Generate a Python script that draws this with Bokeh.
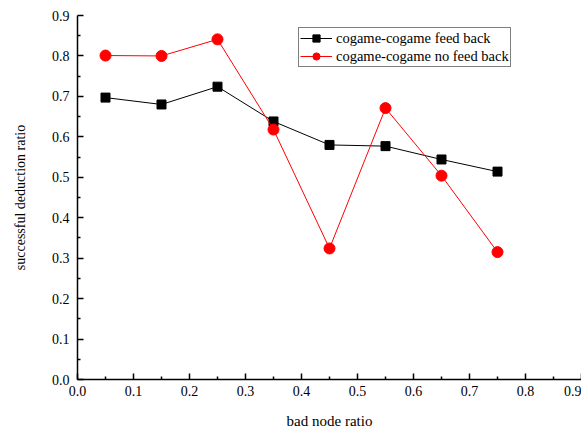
from bokeh.plotting import figure
from bokeh.models import ColumnDataSource, Legend, LegendItem, Range1d, FixedTicker, CustomJSTickFormatter
from bokeh.embed import file_html
from bokeh.resources import INLINE

x_vals = [0.05, 0.15, 0.25, 0.35, 0.45, 0.55, 0.65, 0.75]
feed_back = [0.697, 0.680, 0.724, 0.638, 0.580, 0.577, 0.544, 0.514]
no_feed_back = [0.801, 0.800, 0.841, 0.618, 0.324, 0.671, 0.504, 0.315]
x_ticks = [0.0, 0.1, 0.2, 0.3, 0.4, 0.5, 0.6, 0.7, 0.8, 0.9]
y_ticks = [0.0, 0.1, 0.2, 0.3, 0.4, 0.5, 0.6, 0.7, 0.8, 0.9]
x_minor = [0.05, 0.15, 0.25, 0.35, 0.45, 0.55, 0.65, 0.75, 0.85]
y_minor = [0.05, 0.15, 0.25, 0.35, 0.45, 0.55, 0.65, 0.75, 0.85]
x_title = "bad node ratio"
y_title = "successful deduction ratio"

FONT = "Liberation Serif"

p = figure(width=581, height=434, output_backend="svg", toolbar_location=None,
           x_range=Range1d(0, 0.9), y_range=Range1d(0, 0.9),
           min_border_left=77, min_border_right=0, min_border_top=15, min_border_bottom=55)
p.outline_line_color = None
p.grid.visible = False

src = ColumnDataSource(dict(x=x_vals, fb=feed_back, nfb=no_feed_back))

l1 = p.line("x", "fb", source=src, line_color="black", line_width=1)
m1 = p.scatter("x", "fb", source=src, marker="square", size=9, fill_color="black", line_color="black")
l2 = p.line("x", "nfb", source=src, line_color="red", line_width=1)
m2 = p.scatter("x", "nfb", source=src, marker="circle", size=11, fill_color="red", line_color="red")

fmt = CustomJSTickFormatter(code="return tick.toFixed(1);")

for ax, ticks, minor in ((p.xaxis[0], x_ticks, x_minor), (p.yaxis[0], y_ticks, y_minor)):
    ax.ticker = FixedTicker(ticks=ticks, minor_ticks=minor)
    ax.formatter = fmt
    ax.major_tick_in = 6
    ax.major_tick_out = 0
    ax.minor_tick_in = 3
    ax.minor_tick_out = 0
    ax.axis_line_width = 1.5
    ax.major_tick_line_width = 1.5
    ax.minor_tick_line_width = 1.5
    ax.axis_line_color = "black"
    ax.major_tick_line_color = "black"
    ax.minor_tick_line_color = "black"
    ax.axis_label_text_font_style = "normal"
    ax.axis_label_text_color = "black"
    ax.major_label_text_color = "black"
    ax.major_label_text_font_style = "normal"
    ax.major_label_text_font = FONT
    ax.major_label_text_font_size = "14px"
    ax.axis_label_text_font = FONT

p.xaxis[0].axis_label = x_title
p.yaxis[0].axis_label = y_title
p.xaxis[0].axis_label_text_font_size = "15px"
p.yaxis[0].axis_label_text_font_size = "14px"
p.xaxis[0].major_label_standoff = 6
p.xaxis[0].axis_label_standoff = 14
p.yaxis[0].major_label_standoff = 8
p.yaxis[0].axis_label_standoff = 21

legend = Legend(items=[LegendItem(label="cogame-cogame feed back", renderers=[l1, m1]),
                       LegendItem(label="cogame-cogame no feed back", renderers=[l2, m2])],
                location=(221, 312), label_text_font=FONT, label_text_font_size="14.5px",
                label_text_color="black", border_line_color="black", border_line_width=1,
                padding=1, spacing=0, margin=0, glyph_width=32, glyph_height=18,
                label_height=18, label_standoff=4, background_fill_alpha=1)
p.add_layout(legend)

open("out.html", "w").write(file_html(p, INLINE))
